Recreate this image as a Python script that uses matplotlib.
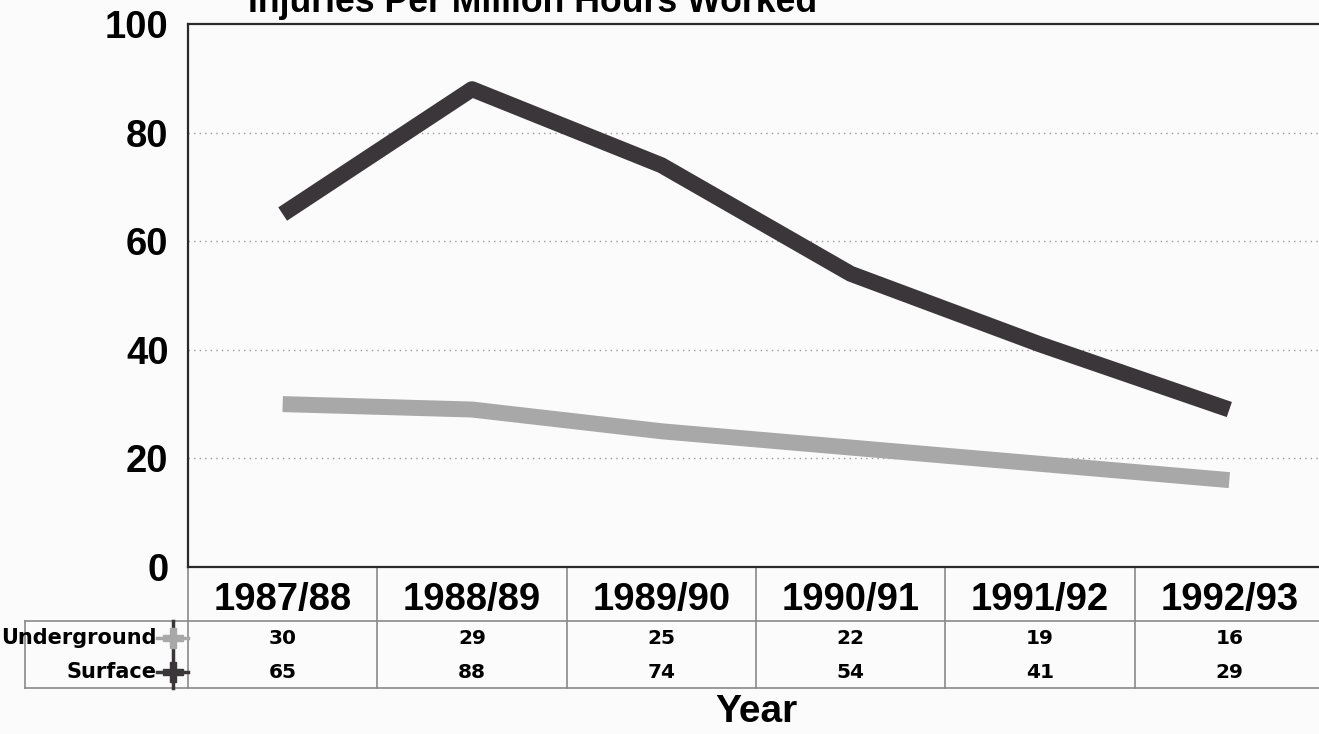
import matplotlib
matplotlib.use("Agg")
import matplotlib.pyplot as plt
import matplotlib.transforms as mtransforms

# chart data
years = ["1987/88", "1988/89", "1989/90", "1990/91", "1991/92", "1992/93"]
underground = [30, 29, 25, 22, 19, 16]
surface = [65, 88, 74, 54, 41, 29]
series_names = ["Underground", "Surface"]
title = "Injuries Per Million Hours Worked"
xlabel = "Year"

DARK = "#3b3639"
LIGHT = "#a8a8a8"
TABLE_LINE = "#8a8a8a"
BOLD = {"family": ["Liberation Sans", "DejaVu Sans"], "weight": "bold"}
SMALL = {"family": ["DejaVu Sans"], "weight": "bold"}

W, H = 1319, 734
fig = plt.figure(figsize=(W / 100, H / 100), dpi=100, facecolor="#fbfbfb")

# axes box in pixels (right edge runs slightly past the image)
left, right, top, bottom = 188, 1324, 24, 567
ax = fig.add_axes([left / W, 1 - bottom / H, (right - left) / W, (bottom - top) / H])
ax.set_facecolor("#fbfbfb")

x = list(range(len(years)))
ax.plot(x, underground, color=LIGHT, lw=11.5, solid_capstyle="butt", solid_joinstyle="round")
ax.plot(x, surface, color=DARK, lw=11.5, solid_capstyle="butt", solid_joinstyle="round")

ax.set_xlim(-0.5, len(years) - 0.5)
ax.set_ylim(0, 100)
ax.set_yticks([0, 20, 40, 60, 80, 100])
ax.set_yticklabels(["0", "20", "40", "60", "80", "100"], fontdict={**BOLD, "size": 27.5})
ax.tick_params(axis="y", length=0, pad=14)
ax.set_xticks([])
for y in [20, 40, 60, 80]:
    ax.axhline(y, color="#9a9a9a", lw=1.0, ls=(0, (1, 3)), zorder=0)

for side in ["top", "left", "bottom"]:
    ax.spines[side].set_color("#2a2a2a")
    ax.spines[side].set_linewidth(1.6)
ax.spines["right"].set_visible(False)

# data table under the axes
h = bottom - top
def fy(py):
    return (bottom - py) / h

blend = mtransforms.blended_transform_factory(ax.transData, ax.transAxes)
cat_y, tab_top, row1_y, row2_y, tab_bot = fy(600), fy(621), fy(638), fy(672), fy(688)

for i, yr in enumerate(years):
    ax.text(i, cat_y, yr, transform=blend, ha="center", va="center", size=27.5, **BOLD)
    ax.text(i, row1_y, str(underground[i]), transform=blend, ha="center", va="center", size=14.5, **SMALL)
    ax.text(i, row2_y, str(surface[i]), transform=blend, ha="center", va="center", size=14.5, **SMALL)

for i in range(len(years) + 1):
    ax.plot([i - 0.5, i - 0.5], [0, tab_bot], transform=blend, color=TABLE_LINE, lw=1.2, clip_on=False)

fx0 = (25 - left) / (right - left)
for yy in [tab_top, tab_bot]:
    ax.plot([fx0, 1.0], [yy, yy], transform=ax.transAxes, color=TABLE_LINE, lw=1.2, clip_on=False)
ax.plot([fx0, fx0], [tab_top, tab_bot], transform=ax.transAxes, color=TABLE_LINE, lw=1.2, clip_on=False)

# row labels with legend keys
mx = (173 - left) / (right - left)
lx0 = (157 - left) / (right - left)
ax.plot([mx, mx], [tab_top, tab_bot], transform=ax.transAxes, color=DARK, lw=2.5, clip_on=False)
for name, col, yy in zip(series_names, [LIGHT, DARK], [row1_y, row2_y]):
    ax.text(lx0, yy, name, transform=ax.transAxes, ha="right", va="center", size=15, **SMALL)
    ax.plot([lx0, 0], [yy, yy], transform=ax.transAxes, color=col, lw=2.5, clip_on=False)
    ax.plot([mx], [yy], transform=ax.transAxes, marker="P", ms=15, color=col, mec=col, clip_on=False)

ax.text(0.5, fy(712), xlabel, transform=ax.transAxes, ha="center", va="center", size=28, **BOLD)

fig.text(248 / W, 1 - 12 / H, title, ha="left", va="baseline", size=25.7, **BOLD)

fig.savefig("out.png", dpi=100, facecolor=fig.get_facecolor())
